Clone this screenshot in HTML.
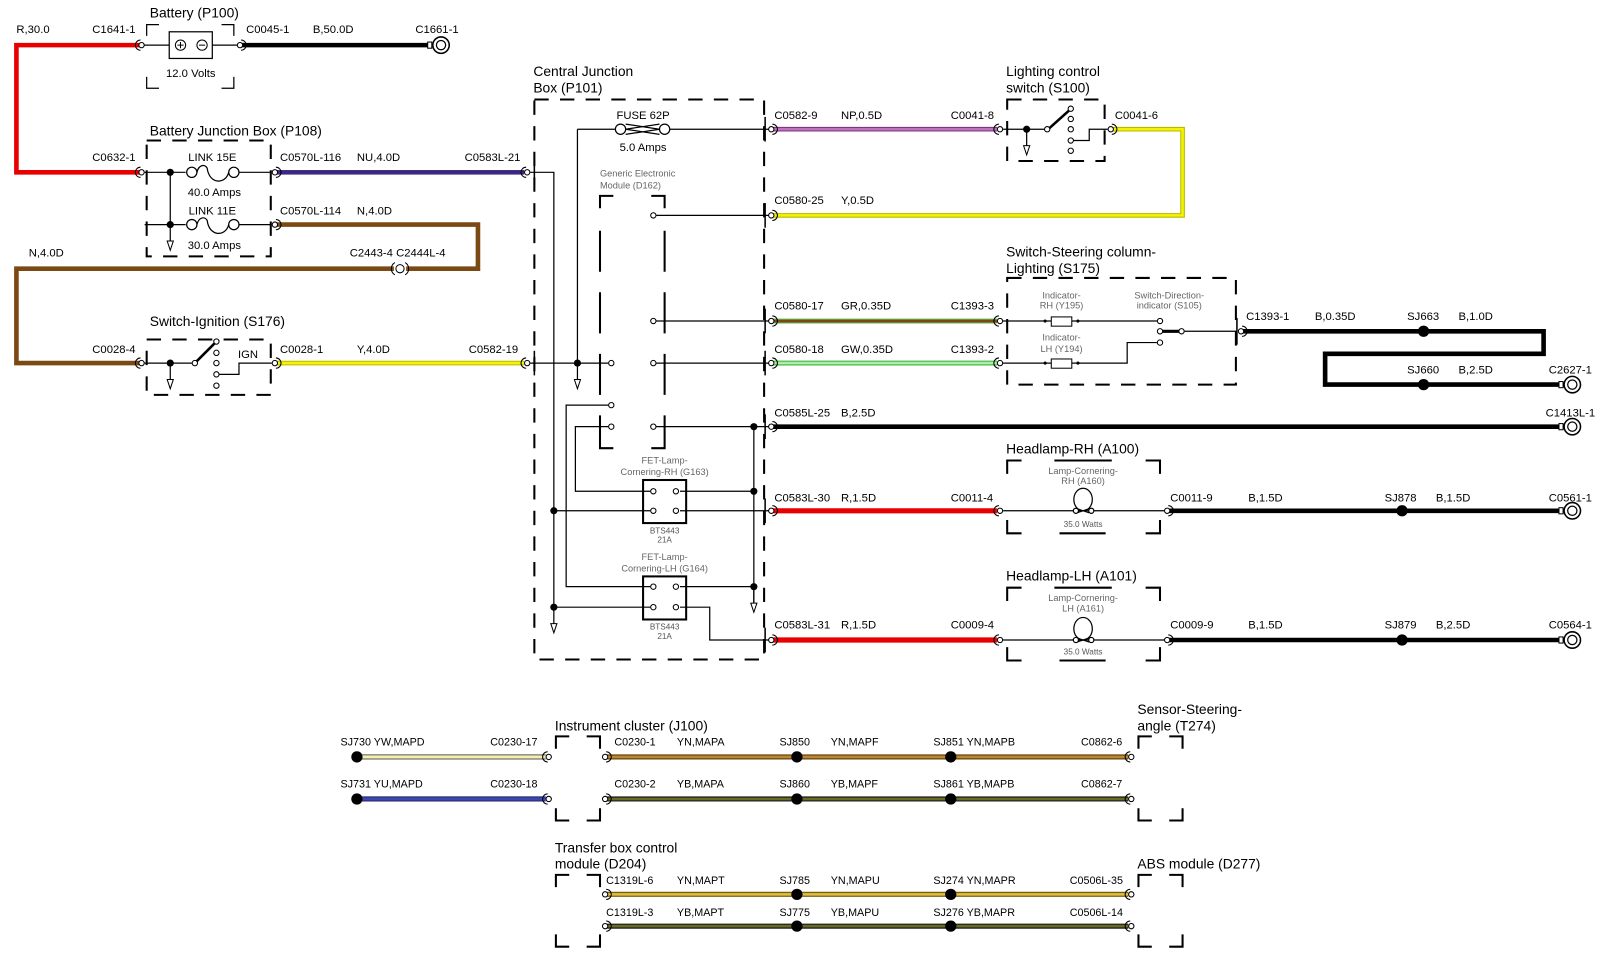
<!DOCTYPE html>
<html><head><meta charset="utf-8"><style>
html,body{margin:0;padding:0;background:#fff;}
svg{display:block;}
text{font-family:"Liberation Sans",Arial,sans-serif;font-size:11px;fill:#000;}
.t{font-size:13.5px;}
.s{font-size:9px;fill:#666;}
.b{font-size:10.5px;}
.w{font-size:8px;fill:#555;}
.box{fill:none;stroke:#000;stroke-width:2;stroke-dasharray:14,11;}
.l{stroke:#000;stroke-width:1.2;fill:none;}
</style></head><body>
<svg width="1600" height="960" viewBox="0 0 1560 936" preserveAspectRatio="none" xmlns="http://www.w3.org/2000/svg">
<defs>
<g id="cn"><path d="M-1,-5 A5,5 0 0 0 -1,5" fill="none" stroke="#000" stroke-width="1"/><circle r="2.6" fill="#fff" stroke="#000" stroke-width="1"/></g>
<g id="cr"><path d="M1,-5 A5,5 0 0 1 1,5" fill="none" stroke="#000" stroke-width="1"/><circle r="2.6" fill="#fff" stroke="#000" stroke-width="1"/></g>
<g id="tm"><rect x="-13" y="-3" width="4" height="6" fill="#fff" stroke="#000"/><circle r="8" fill="#fff" stroke="#000" stroke-width="1.5"/><circle r="4.5" fill="none" stroke="#000" stroke-width="1.2"/></g>
<g id="pin"><circle r="2.6" fill="#fff" stroke="#000" stroke-width="1"/></g>
<g id="gnd"><line x1="0" y1="0" x2="0" y2="18" stroke="#000" stroke-width="1.2"/><path d="M-3,16 L3,16 L0,25 Z" fill="#fff" stroke="#000"/></g>
</defs>

<!-- Battery -->
<text x="146" y="17" class="t">Battery (P100)</text>
<path class="l" d="M143,35 V24 H155 M216,24 H228 V35 M143,75 V86 H155 M216,86 H228 V75" stroke-width="2"/>
<rect x="165" y="31" width="42" height="26" fill="none" stroke="#000" stroke-width="1.2"/>
<circle cx="176" cy="44" r="5" fill="none" stroke="#000"/><path d="M173,44 H179 M176,41 V47" stroke="#000"/>
<circle cx="197" cy="44" r="5" fill="none" stroke="#000"/><path d="M194,44 H200" stroke="#000"/>
<path class="l" d="M140,44 H165 M207,44 H233"/>
<text x="186" y="75" text-anchor="middle">12.0 Volts</text>
<text x="16" y="32">R,30.0</text><text x="90" y="32">C1641-1</text>
<text x="240" y="32">C0045-1</text><text x="305" y="32">B,50.0D</text><text x="405" y="32">C1661-1</text>
<path d="M136,44 H16 V168 H136" fill="none" stroke="#e80000" stroke-width="4.5"/>
<line x1="236" y1="44" x2="418" y2="44" stroke="#000" stroke-width="4.5"/>
<use href="#cn" x="138" y="44"/><use href="#cr" x="234" y="44"/><use href="#tm" x="430" y="44"/>

<!-- BJB -->
<text x="146" y="132" class="t">Battery Junction Box (P108)</text>
<rect x="143" y="137" width="121" height="113" class="box"/>
<text x="90" y="157">C0632-1</text>
<path class="l" d="M141,168 H181 M233,168 H265 M166,168 V219 M141,219 H181 M233,219 H265"/>
<circle cx="166" cy="168" r="3.5"/><circle cx="166" cy="219" r="3.5"/>
<use href="#gnd" x="166" y="219"/>
<g fill="none" stroke="#000" stroke-width="1.2">
<circle cx="187" cy="168" r="5"/><circle cx="228" cy="168" r="5"/><path d="M192,168 C194,160 200,160 202,164 C204,180 220,180 223,168"/>
<circle cx="187" cy="219" r="5"/><circle cx="228" cy="219" r="5"/><path d="M192,219 C194,211 200,211 202,215 C204,231 220,231 223,219"/>
</g>
<text x="207" y="157" text-anchor="middle">LINK 15E</text><text x="209" y="191" text-anchor="middle">40.0 Amps</text>
<text x="207" y="209" text-anchor="middle">LINK 11E</text><text x="209" y="243" text-anchor="middle">30.0 Amps</text>
<text x="273" y="157">C0570L-116</text><text x="348" y="157">NU,4.0D</text><text x="453" y="157">C0583L-21</text>
<text x="273" y="209">C0570L-114</text><text x="348" y="209">N,4.0D</text>
<line x1="270" y1="168" x2="511" y2="168" stroke="#5a2a6a" stroke-width="4.5"/>
<line x1="270" y1="168" x2="511" y2="168" stroke="#2a2a9a" stroke-width="2.5"/>
<path d="M270,219 H466 V262 H396 M384,262 H16 V354 H136" fill="none" stroke="#7b4a14" stroke-width="4.5"/>
<text x="341" y="250">C2443-4 C2444L-4</text><text x="28" y="250">N,4.0D</text>
<circle cx="390" cy="262" r="4" fill="#fff" stroke="#000"/><path d="M385,256 A7,7 0 0 0 385,268 M395,256 A7,7 0 0 1 395,268" fill="none" stroke="#000"/>
<use href="#cn" x="138" y="168"/><use href="#cr" x="268" y="168"/><use href="#cr" x="268" y="219"/><use href="#cn" x="514" y="168"/>

<!-- Ignition -->
<text x="146" y="318" class="t">Switch-Ignition (S176)</text>
<rect x="143" y="331" width="121" height="54" class="box"/>
<text x="90" y="344">C0028-4</text>
<path class="l" d="M141,354 H188 M213,365 H233 V354 H265"/>
<circle cx="166" cy="354" r="3.5"/><use href="#gnd" x="166" y="354"/>
<line x1="190" y1="354" x2="210" y2="334" stroke="#000" stroke-width="2.5"/>
<use href="#pin" x="190" y="354"/><use href="#pin" x="211" y="333"/><use href="#pin" x="211" y="344"/><use href="#pin" x="211" y="354"/><use href="#pin" x="211" y="365"/><use href="#pin" x="211" y="376"/>
<text x="232" y="349">IGN</text>
<text x="273" y="344">C0028-1</text><text x="348" y="344">Y,4.0D</text><text x="457" y="344">C0582-19</text>
<line x1="270" y1="354" x2="511" y2="354" stroke="#b8b800" stroke-width="4.5"/>
<line x1="270" y1="354" x2="511" y2="354" stroke="#f4f400" stroke-width="2.5"/>
<use href="#cn" x="138" y="354"/><use href="#cr" x="268" y="354"/><use href="#cn" x="514" y="354"/>

<!-- CJB -->
<text x="520" y="74" class="t">Central Junction</text><text x="520" y="90" class="t">Box (P101)</text>
<rect x="521" y="97" width="224" height="546" class="box"/>
<g stroke="#000" stroke-width="1.5">
<line x1="746" y1="114" x2="746" y2="138"/><line x1="746" y1="198" x2="746" y2="222"/><line x1="746" y1="301" x2="746" y2="325"/><line x1="746" y1="342" x2="746" y2="366"/><line x1="746" y1="404" x2="746" y2="428"/><line x1="746" y1="486" x2="746" y2="510"/><line x1="746" y1="612" x2="746" y2="636"/>
<line x1="521" y1="156" x2="521" y2="180"/><line x1="521" y1="342" x2="521" y2="366"/>
</g>
<path class="l" d="M517,168 H540 V592 M517,354 H593 M563,126 V354 M563,126 H600 M653,126 H750
M640,210 H750 M640,313 H750 M640,354 H750 M640,416 H750 M735,416 V592
M593,395 H552 V572 H634 M593,416 H561 V479 H634 M663,479 H735 M540,498 H634 M663,498 H750
M663,572 H735 M540,592 H634 M663,592 H692 V624 H750"/>
<use href="#gnd" x="540" y="592"/><use href="#gnd" x="563" y="354"/><use href="#gnd" x="735" y="572"/>
<circle cx="540" cy="498" r="3.5"/><circle cx="540" cy="592" r="3.5"/><circle cx="563" cy="354" r="3.5"/>
<circle cx="735" cy="416" r="3.5"/><circle cx="735" cy="479" r="3.5"/><circle cx="735" cy="572" r="3.5"/>
<g fill="none" stroke="#000" stroke-width="1.2"><circle cx="605" cy="126" r="5"/><circle cx="648" cy="126" r="5"/><path d="M610,126 L643,121 M610,126 L643,131 M610,121 L643,126 M610,131 L643,126"/></g>
<text x="627" y="116" text-anchor="middle">FUSE 62P</text><text x="627" y="147" text-anchor="middle">5.0 Amps</text>
<text x="585" y="172" class="s">Generic Electronic</text><text x="585" y="184" class="s">Module (D162)</text>
<path d="M585,203 V191 H598 M635,191 H648 V203 M585,225 V265 M648,225 V265 M585,285 V325 M648,285 V325 M585,345 V385 M648,345 V385 M585,405 V437 H598 M635,437 H648 V405" fill="none" stroke="#000" stroke-width="2"/>
<use href="#pin" x="637" y="210"/><use href="#pin" x="637" y="313"/><use href="#pin" x="637" y="354"/><use href="#pin" x="637" y="416"/>
<use href="#pin" x="596" y="354"/><use href="#pin" x="596" y="395"/><use href="#pin" x="596" y="416"/>
<rect x="627" y="468" width="42" height="42" fill="none" stroke="#000" stroke-width="2"/>
<rect x="627" y="562" width="42" height="42" fill="none" stroke="#000" stroke-width="2"/>
<use href="#pin" x="637" y="479"/><use href="#pin" x="659" y="479"/><use href="#pin" x="637" y="498"/><use href="#pin" x="659" y="498"/>
<use href="#pin" x="637" y="572"/><use href="#pin" x="659" y="572"/><use href="#pin" x="637" y="592"/><use href="#pin" x="659" y="592"/>
<text x="648" y="452" class="s" text-anchor="middle">FET-Lamp-</text><text x="648" y="463" class="s" text-anchor="middle">Cornering-RH (G163)</text>
<text x="648" y="520" class="w" text-anchor="middle">BTS443</text><text x="648" y="529" class="w" text-anchor="middle">21A</text>
<text x="648" y="546" class="s" text-anchor="middle">FET-Lamp-</text><text x="648" y="557" class="s" text-anchor="middle">Cornering-LH (G164)</text>
<text x="648" y="614" class="w" text-anchor="middle">BTS443</text><text x="648" y="623" class="w" text-anchor="middle">21A</text>

<!-- right-side labels -->
<text x="755" y="116">C0582-9</text><text x="820" y="116">NP,0.5D</text><text x="927" y="116">C0041-8</text>
<text x="755" y="199">C0580-25</text><text x="820" y="199">Y,0.5D</text>
<text x="755" y="302">C0580-17</text><text x="820" y="302">GR,0.35D</text><text x="927" y="302">C1393-3</text>
<text x="755" y="344">C0580-18</text><text x="820" y="344">GW,0.35D</text><text x="927" y="344">C1393-2</text>
<text x="755" y="406">C0585L-25</text><text x="820" y="406">B,2.5D</text>
<text x="755" y="489">C0583L-30</text><text x="820" y="489">R,1.5D</text><text x="927" y="489">C0011-4</text>
<text x="755" y="613">C0583L-31</text><text x="820" y="613">R,1.5D</text><text x="927" y="613">C0009-4</text>

<!-- wires right -->
<line x1="754" y1="126" x2="972" y2="126" stroke="#7a3a7a" stroke-width="4.5"/><line x1="754" y1="126" x2="972" y2="126" stroke="#c070c0" stroke-width="2.5"/>
<path d="M1085,126 H1153 V210 H754" fill="none" stroke="#b8b800" stroke-width="4.5"/><path d="M1085,126 H1153 V210 H754" fill="none" stroke="#f4f400" stroke-width="2.5"/>
<line x1="754" y1="313" x2="972" y2="313" stroke="#70d070" stroke-width="5"/><line x1="754" y1="313" x2="972" y2="313" stroke="#7b4a14" stroke-width="3"/>
<line x1="754" y1="354" x2="972" y2="354" stroke="#60c860" stroke-width="5"/><line x1="754" y1="354" x2="972" y2="354" stroke="#d8f8d8" stroke-width="1.3"/>
<line x1="754" y1="416" x2="1522" y2="416" stroke="#000" stroke-width="4.5"/>
<line x1="754" y1="498" x2="972" y2="498" stroke="#e80000" stroke-width="5"/>
<line x1="754" y1="624" x2="972" y2="624" stroke="#e80000" stroke-width="5"/>
<use href="#cr" x="752" y="126"/><use href="#cr" x="752" y="210"/><use href="#cr" x="752" y="313"/><use href="#cr" x="752" y="354"/><use href="#cr" x="752" y="416"/><use href="#cr" x="752" y="498"/><use href="#cr" x="752" y="624"/>

<!-- Lighting control switch -->
<text x="981" y="74" class="t">Lighting control</text><text x="981" y="90" class="t">switch (S100)</text>
<rect x="982" y="97" width="95" height="60" class="box"/>
<path class="l" d="M978,126 H1020 M1046,137 H1062 V126 H1080"/>
<circle cx="1001" cy="126" r="3.5"/><use href="#gnd" x="1001" y="126"/>
<line x1="1022" y1="126" x2="1042" y2="108" stroke="#000" stroke-width="2.5"/>
<use href="#pin" x="1021" y="126"/><use href="#pin" x="1044" y="106"/><use href="#pin" x="1044" y="116"/><use href="#pin" x="1044" y="126"/><use href="#pin" x="1044" y="137"/><use href="#pin" x="1044" y="147"/>
<text x="1087" y="116">C0041-6</text>
<use href="#cn" x="975" y="126"/><use href="#cr" x="1083" y="126"/>

<!-- S175 -->
<text x="981" y="250" class="t">Switch-Steering column-</text><text x="981" y="266" class="t">Lighting (S175)</text>
<rect x="982" y="271" width="223" height="104" class="box"/>
<path class="l" d="M978,313 H1025 M1045,313 H1128 M978,354 H1025 M1045,354 H1099 V334 H1128 M1155,323 H1206"/>
<rect x="1025" y="309" width="20" height="9" fill="#fff" stroke="#000"/><rect x="1025" y="350" width="20" height="9" fill="#fff" stroke="#000"/>
<circle cx="1019" cy="313" r="1.5"/><circle cx="1051" cy="313" r="1.5"/><circle cx="1019" cy="354" r="1.5"/><circle cx="1051" cy="354" r="1.5"/>
<line x1="1131" y1="323" x2="1151" y2="323" stroke="#000" stroke-width="3"/>
<use href="#pin" x="1131" y="313"/><use href="#pin" x="1131" y="323"/><use href="#pin" x="1131" y="334"/><use href="#pin" x="1152" y="323"/>
<text x="1035" y="291" class="s" text-anchor="middle">Indicator-</text><text x="1035" y="301" class="s" text-anchor="middle">RH (Y195)</text>
<text x="1035" y="332" class="s" text-anchor="middle">Indicator-</text><text x="1035" y="343" class="s" text-anchor="middle">LH (Y194)</text>
<text x="1140" y="291" class="s" text-anchor="middle">Switch-Direction-</text><text x="1140" y="301" class="s" text-anchor="middle">indicator (S105)</text>
<line x1="1206" y1="310" x2="1206" y2="336" stroke="#000" stroke-width="1.5"/>
<text x="1215" y="312">C1393-1</text><text x="1282" y="312">B,0.35D</text><text x="1372" y="312">SJ663</text><text x="1422" y="312">B,1.0D</text>
<text x="1372" y="364">SJ660</text><text x="1422" y="364">B,2.5D</text><text x="1510" y="364">C2627-1</text>
<text x="1507" y="406">C1413L-1</text>
<path d="M1212,323 H1505 V345 H1292 V375 H1522" fill="none" stroke="#000" stroke-width="4.5"/>
<circle cx="1388" cy="323" r="5.5"/><circle cx="1388" cy="375" r="5.5"/>
<use href="#cn" x="975" y="313"/><use href="#cn" x="975" y="354"/><use href="#cr" x="1210" y="323"/>
<use href="#tm" x="1533" y="375"/><use href="#tm" x="1533" y="416"/>

<!-- Headlamps -->
<text x="981" y="442" class="t">Headlamp-RH (A100)</text>
<text x="981" y="566" class="t">Headlamp-LH (A101)</text>
<g fill="none" stroke="#000" stroke-width="2">
<path d="M982,462 V449 H996 M1028,449 H1084 M1117,449 H1131 V462 M982,507 V520 H996 M1033,520 H1078 M1117,520 H1131 V507"/>
<path d="M982,586 V573 H996 M1028,573 H1084 M1117,573 H1131 V586 M982,631 V644 H996 M1033,644 H1078 M1117,644 H1131 V631"/>
</g>
<path class="l" d="M978,498 H1135 M978,624 H1135"/>
<g fill="#fff" stroke="#000" stroke-width="1.2">
<ellipse cx="1056" cy="487" rx="9" ry="11"/><path d="M1050,496 L1062,500 M1062,496 L1050,500" fill="none"/><circle cx="1049" cy="498" r="2.5"/><circle cx="1064" cy="498" r="2.5"/>
<ellipse cx="1056" cy="613" rx="9" ry="11"/><path d="M1050,622 L1062,626 M1062,622 L1050,626" fill="none"/><circle cx="1049" cy="624" r="2.5"/><circle cx="1064" cy="624" r="2.5"/>
</g>
<text x="1056" y="462" class="s" text-anchor="middle">Lamp-Cornering-</text><text x="1056" y="472" class="s" text-anchor="middle">RH (A160)</text>
<text x="1056" y="514" class="w" text-anchor="middle">35.0 Watts</text>
<text x="1056" y="586" class="s" text-anchor="middle">Lamp-Cornering-</text><text x="1056" y="596" class="s" text-anchor="middle">LH (A161)</text>
<text x="1056" y="638" class="w" text-anchor="middle">35.0 Watts</text>
<text x="1141" y="489">C0011-9</text><text x="1217" y="489">B,1.5D</text><text x="1350" y="489">SJ878</text><text x="1400" y="489">B,1.5D</text><text x="1510" y="489">C0561-1</text>
<text x="1141" y="613">C0009-9</text><text x="1217" y="613">B,1.5D</text><text x="1350" y="613">SJ879</text><text x="1400" y="613">B,2.5D</text><text x="1510" y="613">C0564-1</text>
<line x1="1140" y1="498" x2="1522" y2="498" stroke="#000" stroke-width="4.5"/><line x1="1140" y1="624" x2="1522" y2="624" stroke="#000" stroke-width="4.5"/>
<circle cx="1367" cy="498" r="5.5"/><circle cx="1367" cy="624" r="5.5"/>
<use href="#cn" x="975" y="498"/><use href="#cn" x="975" y="624"/><use href="#cr" x="1138" y="498"/><use href="#cr" x="1138" y="624"/>
<use href="#tm" x="1533" y="498"/><use href="#tm" x="1533" y="624"/>

<!-- Bottom -->
<text x="541" y="712" class="t">Instrument cluster (J100)</text>
<text x="1109" y="696" class="t">Sensor-Steering-</text><text x="1109" y="712" class="t">angle (T274)</text>
<text x="541" y="831" class="t">Transfer box control</text><text x="541" y="847" class="t">module (D204)</text>
<text x="1109" y="847" class="t">ABS module (D277)</text>
<g fill="none" stroke="#000" stroke-width="2">
<path d="M542,730 V718 H555 M572,718 H585 V730 M542,788 V800 H555 M572,800 H585 V788"/>
<path d="M1110,730 V718 H1123 M1140,718 H1153 V730 M1110,788 V800 H1123 M1140,800 H1153 V788"/>
<path d="M542,865 V853 H555 M572,853 H585 V865 M542,911 V923 H555 M572,923 H585 V911"/>
<path d="M1110,865 V853 H1123 M1140,853 H1153 V865 M1110,911 V923 H1123 M1140,923 H1153 V911"/>
</g>
<line x1="348" y1="738" x2="532" y2="738" stroke="#555" stroke-width="5"/><line x1="348" y1="738" x2="532" y2="738" stroke="#f4f0b0" stroke-width="3"/>
<line x1="348" y1="779" x2="532" y2="779" stroke="#222266" stroke-width="5"/><line x1="348" y1="779" x2="532" y2="779" stroke="#3a48b0" stroke-width="3"/>
<circle cx="348" cy="738" r="5.5"/><circle cx="348" cy="779" r="5.5"/>
<use href="#cn" x="535" y="738"/><use href="#cn" x="535" y="779"/>
<text x="332" y="727" class="b">SJ730 YW,MAPD</text><text x="478" y="727" class="b">C0230-17</text>
<text x="332" y="768" class="b">SJ731 YU,MAPD</text><text x="478" y="768" class="b">C0230-18</text>
<line x1="592" y1="738" x2="1100" y2="738" stroke="#6a4010" stroke-width="5"/><line x1="592" y1="738" x2="1100" y2="738" stroke="#b88a30" stroke-width="2.5"/>
<line x1="592" y1="779" x2="1100" y2="779" stroke="#222" stroke-width="5"/><line x1="592" y1="779" x2="1100" y2="779" stroke="#6a6a20" stroke-width="2.5"/>
<line x1="592" y1="872" x2="1100" y2="872" stroke="#7a6010" stroke-width="5"/><line x1="592" y1="872" x2="1100" y2="872" stroke="#e0c040" stroke-width="2.5"/>
<line x1="592" y1="903" x2="1100" y2="903" stroke="#222" stroke-width="5"/><line x1="592" y1="903" x2="1100" y2="903" stroke="#6a6a20" stroke-width="2.5"/>
<g><circle cx="777" cy="738" r="5.5"/><circle cx="927" cy="738" r="5.5"/><circle cx="777" cy="779" r="5.5"/><circle cx="927" cy="779" r="5.5"/>
<circle cx="777" cy="872" r="5.5"/><circle cx="927" cy="872" r="5.5"/><circle cx="777" cy="903" r="5.5"/><circle cx="927" cy="903" r="5.5"/></g>
<use href="#cr" x="590" y="738"/><use href="#cr" x="590" y="779"/><use href="#cr" x="590" y="872"/><use href="#cr" x="590" y="903"/>
<use href="#cn" x="1103" y="738"/><use href="#cn" x="1103" y="779"/><use href="#cn" x="1103" y="872"/><use href="#cn" x="1103" y="903"/>
<text x="599" y="727" class="b">C0230-1</text><text x="660" y="727" class="b">YN,MAPA</text><text x="760" y="727" class="b">SJ850</text><text x="810" y="727" class="b">YN,MAPF</text><text x="910" y="727" class="b">SJ851 YN,MAPB</text><text x="1054" y="727" class="b">C0862-6</text>
<text x="599" y="768" class="b">C0230-2</text><text x="660" y="768" class="b">YB,MAPA</text><text x="760" y="768" class="b">SJ860</text><text x="810" y="768" class="b">YB,MAPF</text><text x="910" y="768" class="b">SJ861 YB,MAPB</text><text x="1054" y="768" class="b">C0862-7</text>
<text x="591" y="862" class="b">C1319L-6</text><text x="660" y="862" class="b">YN,MAPT</text><text x="760" y="862" class="b">SJ785</text><text x="810" y="862" class="b">YN,MAPU</text><text x="910" y="862" class="b">SJ274 YN,MAPR</text><text x="1043" y="862" class="b">C0506L-35</text>
<text x="591" y="893" class="b">C1319L-3</text><text x="660" y="893" class="b">YB,MAPT</text><text x="760" y="893" class="b">SJ775</text><text x="810" y="893" class="b">YB,MAPU</text><text x="910" y="893" class="b">SJ276 YB,MAPR</text><text x="1043" y="893" class="b">C0506L-14</text>
</svg>
</body></html>
